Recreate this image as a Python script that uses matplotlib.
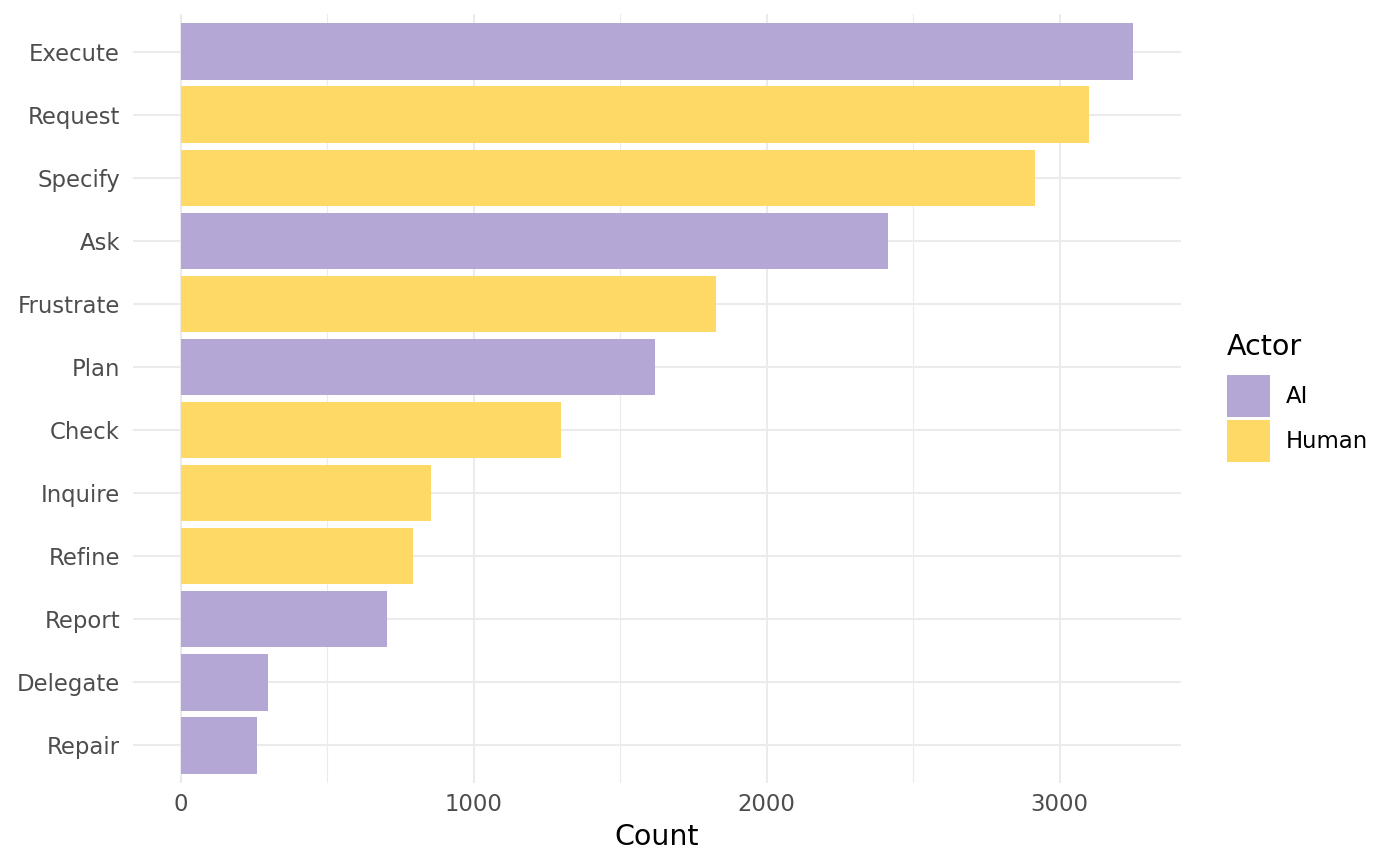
import matplotlib
matplotlib.use("Agg")
import matplotlib.pyplot as plt
from matplotlib.patches import Patch
from matplotlib.ticker import MultipleLocator

categories = ["Execute", "Request", "Specify", "Ask", "Frustrate", "Plan",
              "Check", "Inquire", "Refine", "Report", "Delegate", "Repair"]
counts = [3252, 3099, 2915, 2413, 1826, 1618, 1297, 853, 792, 706, 297, 259]
actors = ["AI", "Human", "Human", "AI", "Human", "AI",
          "Human", "Human", "Human", "AI", "AI", "AI"]
palette = {"AI": "#B4A7D6", "Human": "#FFD966"}
xticks = [0, 1000, 2000, 3000]

plt.rcParams['font.family'] = ['DejaVu Sans']
fig = plt.figure(figsize=(14, 8.66), dpi=100)
W, H = 1400, 866
ax = fig.add_axes([133 / W, (H - 783) / H, (1181 - 133) / W, (783 - 14) / H])

n = len(categories)
ypos = [n - i for i in range(n)]
colors = [palette[a] for a in actors]
ax.barh(ypos, counts, height=0.9, color=colors, zorder=3)

xmax = max(counts)
ax.set_xlim(-0.05 * xmax, 1.05 * xmax)
ax.set_ylim(0.4, n + 0.6)
ax.set_yticks(ypos)
ax.set_yticklabels(categories)
ax.set_xticks(xticks)
ax.xaxis.set_minor_locator(MultipleLocator(500))

ax.grid(True, which='major', axis='both', color='#EBEBEB', linewidth=1.5, zorder=0)
ax.grid(True, which='minor', axis='x', color='#EBEBEB', linewidth=0.8, zorder=0)
for s in ax.spines.values():
    s.set_visible(False)
ax.tick_params(axis='both', which='both', length=0)
ax.tick_params(axis='y', labelsize=16.4, labelcolor='#4D4D4D', pad=9.4)
ax.tick_params(axis='x', labelsize=16.4, labelcolor='#4D4D4D', pad=7)
ax.set_xlabel("Count", fontsize=20.5, color='black', labelpad=5)

handles = [Patch(facecolor=palette[k], edgecolor='none', label=k) for k in ["AI", "Human"]]
leg = fig.legend(handles=handles, title="Actor", loc='upper left',
                 bbox_to_anchor=(1220 / W, 1 - 326 / H), frameon=False,
                 fontsize=16.4, title_fontsize=20.5, handlelength=1.89,
                 handleheight=2.46, handletextpad=0.7, labelspacing=0.13,
                 borderaxespad=0, borderpad=0.3)
leg._legend_box.align = "left"
leg._legend_box.sep = 10

fig.savefig("out.png", dpi=100, facecolor='white')
